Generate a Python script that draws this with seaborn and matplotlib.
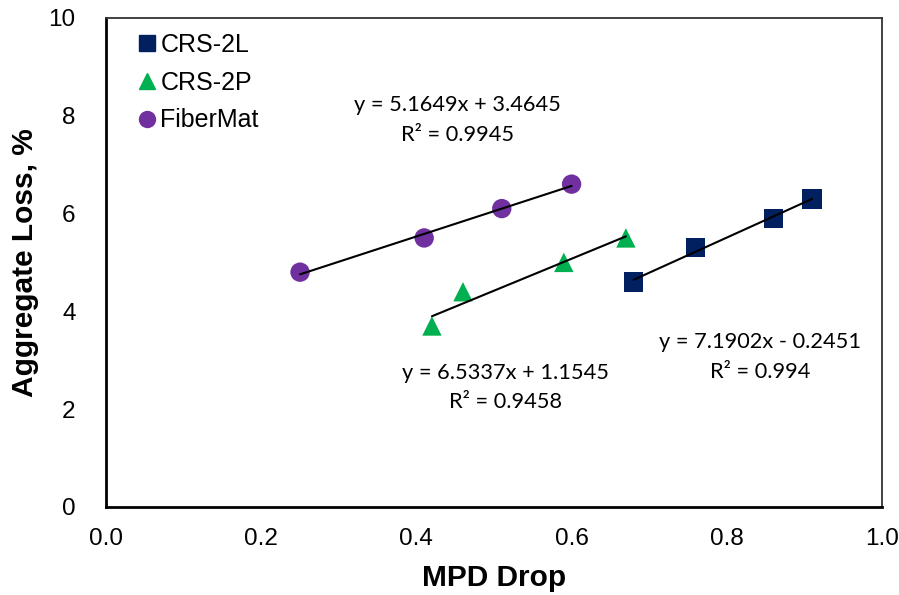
import numpy as np
import pandas as pd
import matplotlib
matplotlib.use("Agg")
import matplotlib.pyplot as plt
import seaborn as sns

# Measured data
crs2l_x = [0.68, 0.76, 0.86, 0.91]
crs2l_y = [4.6, 5.3, 5.9, 6.3]
crs2p_x = [0.42, 0.46, 0.59, 0.67]
crs2p_y = [3.7, 4.4, 5.0, 5.5]
fiber_x = [0.25, 0.41, 0.51, 0.60]
fiber_y = [4.8, 5.5, 6.1, 6.6]

series_names = ["CRS-2L", "CRS-2P", "FiberMat"]
# Linear trendline coefficients (slope, intercept) and R²
slopes = [7.1902, 6.5337, 5.1649]
intercepts = [-0.2451, 1.1545, 3.4645]
r2_labels = ["0.994", "0.9458", "0.9945"]

x_ticks = [0.0, 0.2, 0.4, 0.6, 0.8, 1.0]
y_ticks = [0, 2, 4, 6, 8, 10]

sns.set_theme(style="white")
plt.rcParams["font.family"] = ["Liberation Sans", "DejaVu Sans"]
plt.rcParams["text.color"] = "black"
plt.rcParams["axes.labelcolor"] = "black"

df = pd.DataFrame({
    "MPD Drop": crs2l_x + crs2p_x + fiber_x,
    "Aggregate Loss": crs2l_y + crs2p_y + fiber_y,
    "Mix": ["CRS-2L"] * 4 + ["CRS-2P"] * 4 + ["FiberMat"] * 4,
})

colors = {"CRS-2L": "#002060", "CRS-2P": "#00B050", "FiberMat": "#7030A0"}
markers = {"CRS-2L": "s", "CRS-2P": "^", "FiberMat": "o"}

fig = plt.figure(figsize=(8.99, 5.95), dpi=100)
ax = fig.add_axes([0.118, 0.148, 0.863, 0.822])

sns.scatterplot(data=df, x="MPD Drop", y="Aggregate Loss", hue="Mix", style="Mix",
                palette=colors, markers=markers, s=195, edgecolor="none",
                ax=ax, zorder=3, legend=False)

# Trendlines over each series' x-range
xs_all = [crs2l_x, crs2p_x, fiber_x]
for xs, m, b in zip(xs_all, slopes, intercepts):
    xl = np.array([min(xs), max(xs)])
    ax.plot(xl, m * xl + b, color="black", lw=1.5, zorder=4)

# Trendline equations
eq_pos = [(0.843, 3.07), (0.515, 2.44), (0.453, 7.91)]
for (tx, ty), m, b, r2 in zip(eq_pos, slopes, intercepts, r2_labels):
    sign = "+" if b >= 0 else "-"
    txt = f"y = {m:.4f}x {sign} {abs(b):.4f}\nR² = {r2}"
    ax.text(tx, ty, txt, ha="center", va="center", fontsize=15.7, color="black",
            family=["Lato", "DejaVu Sans"], linespacing=1.6, zorder=5)

ax.set_xlim(0, 1.0)
ax.set_ylim(0, 10)
ax.set_xticks(x_ticks)
ax.set_xticklabels([f"{v:.1f}" for v in x_ticks])
ax.set_yticks(y_ticks)
ax.set_yticklabels([str(v) for v in y_ticks])
ax.tick_params(axis="both", direction="in", length=7, width=1.2,
               labelsize=17.5, colors="black")
ax.tick_params(axis="x", pad=15)
ax.tick_params(axis="y", pad=22)

ax.set_xlabel("MPD Drop", fontsize=21.5, fontweight="bold", labelpad=10, color="black")
ax.set_ylabel("Aggregate Loss, %", fontsize=21.5, fontweight="bold", labelpad=7,
              color="black")

for side in ["left", "bottom"]:
    ax.spines[side].set_color("black")
    ax.spines[side].set_linewidth(2.0)
for side in ["top", "right"]:
    ax.spines[side].set_color("#333333")
    ax.spines[side].set_linewidth(1.3)

# Legend
handles = [plt.Line2D([], [], linestyle="none", marker=markers[n], color=colors[n],
                      markersize=11.5) for n in series_names]
leg = ax.legend(handles, series_names, loc="upper left", bbox_to_anchor=(0.02, 1.0),
                frameon=False, fontsize=18, handlelength=0.8, handletextpad=0.15,
                labelspacing=0.55, borderaxespad=0.2)
for t in leg.get_texts():
    t.set_color("black")

fig.savefig("out.png", dpi=100)
